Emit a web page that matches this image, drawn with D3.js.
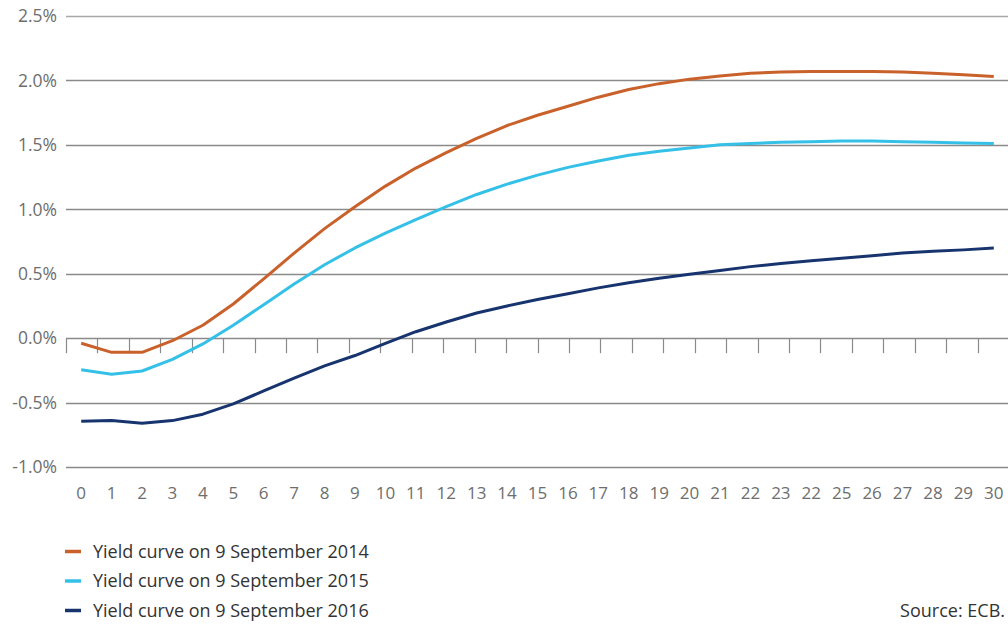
<!DOCTYPE html>
<html><head><meta charset="utf-8">
<script src="https://cdn.jsdelivr.net/npm/d3@7"></script>
<style>body{margin:0;background:#fff}svg{display:block}</style>
</head><body><svg id="c" width="1008" height="624"></svg>
<script>
const categories = ["0","1","2","3","4","5","6","7","8","9","10","11","12","13","14","15","16","17","18","19","20","21","22","23","22","25","26","27","28","29","30"];
const yTicks = [-1.0,-0.5,0.0,0.5,1.0,1.5,2.0,2.5];
const series2014 = [-0.04,-0.11,-0.11,-0.02,0.10,0.265,0.46,0.66,0.85,1.02,1.18,1.32,1.44,1.55,1.65,1.73,1.80,1.87,1.93,1.975,2.01,2.035,2.055,2.065,2.07,2.07,2.07,2.065,2.055,2.045,2.03];
const series2015 = [-0.245,-0.28,-0.255,-0.165,-0.045,0.10,0.26,0.42,0.57,0.70,0.815,0.92,1.02,1.115,1.195,1.265,1.325,1.375,1.42,1.45,1.475,1.50,1.51,1.52,1.525,1.53,1.53,1.525,1.52,1.515,1.51];
const series2016 = [-0.645,-0.64,-0.66,-0.64,-0.59,-0.51,-0.41,-0.31,-0.215,-0.135,-0.04,0.05,0.125,0.195,0.25,0.30,0.345,0.39,0.43,0.465,0.495,0.525,0.555,0.58,0.60,0.62,0.64,0.66,0.675,0.685,0.70];
const seriesNames = ["Yield curve on 9 September 2014","Yield curve on 9 September 2015","Yield curve on 9 September 2016"];
const seriesColors = ["#c9612a","#35c0e8","#17346f"];
const source = "Source: ECB.";

const svg = d3.select("#c");
const L = 66, R = 1009, T = 16, B = 467;
const y = d3.scaleLinear().domain([-1.0, 2.5]).range([B, T]);
const x = d3.scalePoint().domain(d3.range(categories.length)).range([L, R]).padding(0.5);
const tickX = d3.scaleLinear().domain([0, categories.length - 1]).range([L, R]);
const FONT = "Open Sans, Noto Sans, sans-serif";

// gridlines
svg.append("g").selectAll("line").data(yTicks).join("line")
  .attr("x1", L).attr("x2", 1008)
  .attr("y1", d => Math.round(y(d)) + 0.5).attr("y2", d => Math.round(y(d)) + 0.5)
  .attr("stroke", d => d === 2.5 ? "#a8a8a8" : "#8a8a8a").attr("stroke-width", 1.3);

// y labels
svg.append("g").selectAll("text").data(yTicks).join("text")
  .attr("x", 57).attr("y", d => y(d)).attr("dy", "0.36em")
  .attr("text-anchor", "end")
  .attr("font-family", FONT).attr("font-size", 17.5)
  .attr("fill", "#6e6e6e")
  .text(d => d.toFixed(1) + "%");

// tick marks on zero line
svg.append("g").selectAll("line").data(d3.range(categories.length - 1)).join("line")
  .attr("x1", d => Math.round(tickX(d)) + 0.5).attr("x2", d => Math.round(tickX(d)) + 0.5)
  .attr("y1", y(0)).attr("y2", y(0) + 15)
  .attr("stroke", "#8a8a8a").attr("stroke-width", 1.2);

// x labels
svg.append("g").selectAll("text").data(categories).join("text")
  .attr("x", (d, i) => x(i)).attr("y", 499)
  .attr("text-anchor", "middle")
  .attr("font-family", FONT).attr("font-size", 17)
  .attr("fill", "#6e6e6e")
  .text(d => d);

// lines
const line = d3.line().x((d, i) => x(i)).y(d => y(d)).curve(d3.curveLinear);
[series2014, series2015, series2016].forEach((s, k) => {
  svg.append("path").datum(s).attr("d", line)
    .attr("fill", "none").attr("stroke", seriesColors[k]).attr("stroke-width", 3)
    .attr("stroke-linejoin", "round");
});

// legend
const lg = svg.append("g");
seriesNames.forEach((n, k) => {
  const cy = 551.5 + k * 29.5;
  lg.append("line").attr("x1", 65).attr("x2", 81).attr("y1", cy).attr("y2", cy)
    .attr("stroke", seriesColors[k]).attr("stroke-width", 3.5);
  lg.append("text").attr("x", 93).attr("y", cy).attr("dy", "0.36em")
    .attr("font-family", FONT).attr("font-size", 18)
    .attr("fill", "#333").text(n);
});
svg.append("text").attr("x", 1005).attr("y", 610.5).attr("dy", "0.36em")
  .attr("text-anchor", "end")
  .attr("font-family", FONT).attr("font-size", 18)
  .attr("fill", "#333").text(source);
</script></body></html>
